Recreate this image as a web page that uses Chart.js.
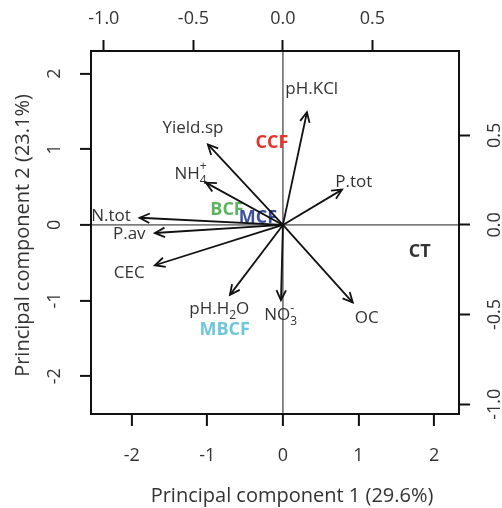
<!DOCTYPE html>
<html>
<head>
<meta charset="utf-8">
<script src="https://cdn.jsdelivr.net/npm/chart.js@4"></script>
<style>
  body { margin: 0; background: #fff; }
</style>
</head>
<body>
<canvas id="biplot" width="502" height="508"></canvas>
<script>
// Variable loadings (top / right axes)
const varLabels = ["pH.KCl", "P.tot", "OC", "NO_3^-", "pH.H_2O", "CEC", "P.av", "N.tot", "NH_4^+", "Yield.sp"];
const loadPC1 = [0.134, 0.33, 0.39, -0.011, -0.296, -0.715, -0.715, -0.80, -0.43, -0.419];
const loadPC2 = [0.629, 0.197, -0.433, -0.42, -0.39, -0.225, -0.045, 0.04, 0.236, 0.449];

// Treatment scores (bottom / left axes)
const groups = ["CCF", "BCF", "MCF", "MBCF", "CT"];
const scorePC1 = [-0.145, -0.74, -0.33, -0.77, 1.81];
const scorePC2 = [1.086, 0.2, 0.1, -1.39, -0.36];
const groupColors = ["#e6332a", "#5bb55d", "#3b4fa2", "#6dc6da", "#333333"];

// Tick labels
const scoreTicks = [-2, -1, 0, 1, 2];
const loadTicks = [-1.0, -0.5, 0.0, 0.5];
const xTitle = "Principal component 1 (29.6%)";
const yTitle = "Principal component 2 (23.1%)";

const ratio = 2.37;   // score units per loading unit
const xMin = -2.54, xMax = 2.33, yMin = -2.50, yMax = 2.30;
const FONT = "'Open Sans', sans-serif";
const TXT = "#333";

function setTicks(vals) {
    return (s) => { s.ticks = vals.map((v) => ({ value: v })); };
}

// draws label with _x subscript / ^x superscript, centered
function drawRich(ctx, str, cx, cy, size) {
    const parts = [];
    let i = 0;
    while (i < str.length) {
        const c = str[i];
        if ((c === "_" || c === "^") && i + 1 < str.length) {
            parts.push({ t: str[i + 1], m: c === "_" ? "sub" : "sup" });
            i += 2;
        } else {
            let j = i;
            while (j < str.length && str[j] !== "_" && str[j] !== "^") j++;
            parts.push({ t: str.slice(i, j), m: "n" });
            i = j;
        }
    }
    const small = Math.round(size * 0.68);
    const items = [];
    let w = 0;
    parts.forEach((p, k) => {
        ctx.font = (p.m === "n" ? size : small) + "px " + FONT;
        const pw = ctx.measureText(p.t).width;
        if (p.m === "sup" && k > 0 && parts[k - 1].m === "sub") {
            const prev = items[items.length - 1];
            items.push({ ...p, x: prev.x });
            w = Math.max(w, prev.x + pw);
        } else {
            items.push({ ...p, x: w });
            w += pw;
        }
    });
    ctx.textAlign = "left";
    ctx.textBaseline = "middle";
    const x0 = cx - w / 2;
    items.forEach((it) => {
        ctx.font = (it.m === "n" ? size : small) + "px " + FONT;
        const dy = it.m === "sub" ? size * 0.38 : it.m === "sup" ? -size * 0.42 : 0;
        ctx.fillText(it.t, x0 + it.x, cy + dy);
    });
}

const biplotText = {
    id: "biplotText",
    beforeDatasetsDraw(chart) {
        // treatment labels sit under the arrows
        const ctx = chart.ctx;
        const gm = chart.getDatasetMeta(varLabels.length).data;
        ctx.save();
        ctx.font = "bold 18px " + FONT;
        ctx.textAlign = "center";
        ctx.textBaseline = "middle";
        groups.forEach((g, i) => {
            ctx.fillStyle = groupColors[i];
            ctx.fillText(g, gm[i].x, gm[i].y);
        });
        ctx.restore();
    },
    afterDatasetsDraw(chart) {
        const ctx = chart.ctx;
        const { x2, y2, y } = chart.scales;
        ctx.save();

        // arrow heads + variable labels
        varLabels.forEach((lab, i) => {
            const pts = chart.getDatasetMeta(i).data;
            const ox = pts[0].x, oy = pts[0].y, tx = pts[1].x, ty = pts[1].y;
            const a = Math.atan2(ty - oy, tx - ox);
            const L = 11, h = 0.45;
            ctx.strokeStyle = "#111";
            ctx.lineWidth = 1.8;
            ctx.lineJoin = "miter";
            ctx.beginPath();
            ctx.moveTo(tx - L * Math.cos(a - h), ty - L * Math.sin(a - h));
            ctx.lineTo(tx, ty);
            ctx.lineTo(tx - L * Math.cos(a + h), ty - L * Math.sin(a + h));
            ctx.stroke();

            ctx.fillStyle = TXT;
            const lx = x2.getPixelForValue(loadPC1[i] * 1.2);
            const ly = y2.getPixelForValue(loadPC2[i] * 1.2);
            drawRich(ctx, lab, lx, ly, 17);
        });

        // rotated y tick labels
        ctx.fillStyle = TXT;
        ctx.font = "18px " + FONT;
        ctx.textAlign = "center";
        ctx.textBaseline = "middle";
        scoreTicks.forEach((v) => {
            ctx.save();
            ctx.translate(55, y.getPixelForValue(v));
            ctx.rotate(-Math.PI / 2);
            ctx.fillText(String(v), 0, 0);
            ctx.restore();
        });
        loadTicks.forEach((v) => {
            ctx.save();
            ctx.translate(495, y2.getPixelForValue(v));
            ctx.rotate(-Math.PI / 2);
            ctx.fillText(v.toFixed(1), 0, 0);
            ctx.restore();
        });

        // axis titles
        const ca = chart.chartArea;
        ctx.font = "20px " + FONT;
        ctx.fillText(xTitle, (ca.left + ca.right) / 2 + 17, 496);
        ctx.save();
        ctx.translate(23, (ca.top + ca.bottom) / 2 + 3);
        ctx.rotate(-Math.PI / 2);
        ctx.fillText(yTitle, 0, 0);
        ctx.restore();
        ctx.restore();
    },
};

const datasets = varLabels.map((lab, i) => ({
    label: lab,
    data: [{ x: 0, y: 0 }, { x: loadPC1[i], y: loadPC2[i] }],
    xAxisID: "x2",
    yAxisID: "y2",
    showLine: true,
    borderColor: "#111",
    borderWidth: 1.8,
    pointRadius: 0,
    clip: false,
}));
datasets.push({
    label: "treatments",
    data: groups.map((g, i) => ({ x: scorePC1[i], y: scorePC2[i] })),
    xAxisID: "x",
    yAxisID: "y",
    pointRadius: 0,
});

const zeroLine = (c) => (c.tick && c.tick.value === 0 ? "#7d7d7d" : "rgba(0,0,0,0)");

new Chart(document.getElementById("biplot"), {
    type: "scatter",
    data: { datasets },
    plugins: [biplotText],
    options: {
        responsive: false,
        animation: false,
        events: [],
        layout: { padding: 0 },
        plugins: { legend: { display: false }, tooltip: { enabled: false } },
        scales: {
            x: {
                type: "linear", position: "bottom", min: xMin, max: xMax,
                afterBuildTicks: setTicks(scoreTicks),
                afterFit: (s) => { s.height = 94; },
                grid: { color: zeroLine, lineWidth: 1.8, tickColor: "#111", tickWidth: 2, tickLength: 12 },
                border: { display: true, color: "#111", width: 2 },
                ticks: { color: TXT, font: { family: FONT, size: 18 }, padding: 19, maxRotation: 0 },
            },
            x2: {
                type: "linear", axis: "x", position: "top", min: xMin / ratio, max: xMax / ratio,
                afterBuildTicks: setTicks(loadTicks),
                afterFit: (s) => { s.height = 51; },
                grid: { drawOnChartArea: false, tickColor: "#111", tickWidth: 2, tickLength: 11 },
                border: { display: true, color: "#111", width: 2 },
                ticks: { color: TXT, font: { family: FONT, size: 18 }, padding: 10, maxRotation: 0,
                         callback: (v) => Number(v).toFixed(1) },
            },
            y: {
                type: "linear", position: "left", min: yMin, max: yMax,
                afterBuildTicks: setTicks(scoreTicks),
                afterFit: (s) => { s.width = 91; },
                grid: { color: zeroLine, lineWidth: 1.8, tickColor: "#111", tickWidth: 2, tickLength: 11 },
                border: { display: true, color: "#111", width: 2 },
                ticks: { display: false },
            },
            y2: {
                type: "linear", axis: "y", position: "right", min: yMin / ratio, max: yMax / ratio,
                afterBuildTicks: setTicks(loadTicks),
                afterFit: (s) => { s.width = 43; },
                grid: { drawOnChartArea: false, tickColor: "#111", tickWidth: 2, tickLength: 11 },
                border: { display: true, color: "#111", width: 2 },
                ticks: { display: false },
            },
        },
    },
});
</script>
</body>
</html>
